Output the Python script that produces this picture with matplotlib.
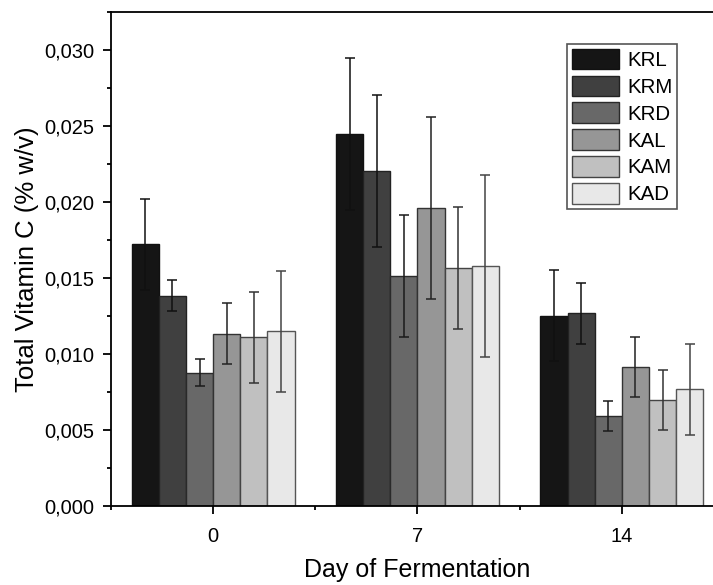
import matplotlib
matplotlib.use("Agg")
import matplotlib.pyplot as plt
import numpy as np
from matplotlib.ticker import FuncFormatter, MultipleLocator

plt.rcParams['font.family'] = ['Liberation Sans', 'DejaVu Sans']

# data
days = [0, 7, 14]
samples = ['KRL', 'KRM', 'KRD', 'KAL', 'KAM', 'KAD']
krl = [0.01722, 0.02447, 0.01252]
krm = [0.01384, 0.02206, 0.01268]
krd = [0.00877, 0.01515, 0.00594]
kal = [0.01134, 0.01961, 0.00915]
kam = [0.01110, 0.01564, 0.00697]
kad = [0.01149, 0.01579, 0.00768]
krl_err = [0.0030, 0.0050, 0.0030]
krm_err = [0.0010, 0.0050, 0.0020]
krd_err = [0.0009, 0.0040, 0.0010]
kal_err = [0.0020, 0.0060, 0.0020]
kam_err = [0.0030, 0.0040, 0.0020]
kad_err = [0.0040, 0.0060, 0.0030]

values = [krl, krm, krd, kal, kam, kad]
errors = [krl_err, krm_err, krd_err, kal_err, kam_err, kad_err]
fills = ['#151515', '#404040', '#686868', '#969696', '#c0c0c0', '#e8e8e8']
edges = ['#111111', '#222222', '#2a2a2a', '#333333', '#444444', '#555555']
err_colors = ['#111111', '#111111', '#1a1a1a', '#222222', '#333333', '#444444']

fig = plt.figure(figsize=(7.13, 5.85), dpi=100)
ax = fig.add_axes([0.1557, 0.135, 0.8597, 0.8445])

width = 0.93
x = np.array(days, dtype=float)
for i, (name, vals, errs) in enumerate(zip(samples, values, errors)):
    offset = (i - 2.5) * width
    ax.bar(x + offset, vals, width, color=fills[i], edgecolor=edges[i],
           linewidth=1.0, label=name, zorder=2)
    ax.errorbar(x + offset, vals, yerr=errs, fmt='none', ecolor=err_colors[i],
                elinewidth=1.1, capsize=3.8, capthick=1.1, zorder=3)

ax.set_xlim(-3.5, 17.5)
ax.set_ylim(0, 0.0325)
ax.set_xticks(days)
ax.xaxis.set_minor_locator(MultipleLocator(3.5))
ax.yaxis.set_major_locator(MultipleLocator(0.005))
ax.yaxis.set_minor_locator(MultipleLocator(0.0025))
ax.yaxis.set_major_formatter(FuncFormatter(lambda v, p: f"{v:.3f}".replace('.', ',')))

ax.tick_params(which='major', direction='out', length=6, width=1.3, labelsize=14.5)
ax.tick_params(axis='x', which='major', pad=9)
ax.tick_params(axis='y', which='major', pad=6)
ax.tick_params(which='minor', direction='out', length=3, width=1.3)
ax.tick_params(top=False, right=False, which='both')
for sp in ax.spines.values():
    sp.set_linewidth(1.3)

ax.set_ylabel('Total Vitamin C (% w/v)', fontsize=18.5, labelpad=4)
ax.set_xlabel('Day of Fermentation', fontsize=18)
ax.xaxis.set_label_coords((417 - 111) / 613, -0.105)

leg = ax.legend(loc='upper left', bbox_to_anchor=(0.744, 0.935), fontsize=14.8,
                handlelength=2.3, handleheight=1.15, handletextpad=0.4,
                labelspacing=0.28, borderpad=0.22, borderaxespad=0,
                fancybox=False, framealpha=1)
leg.get_frame().set_edgecolor('#555555')
leg.get_frame().set_linewidth(1.2)

fig.savefig('out.png', dpi=100)
